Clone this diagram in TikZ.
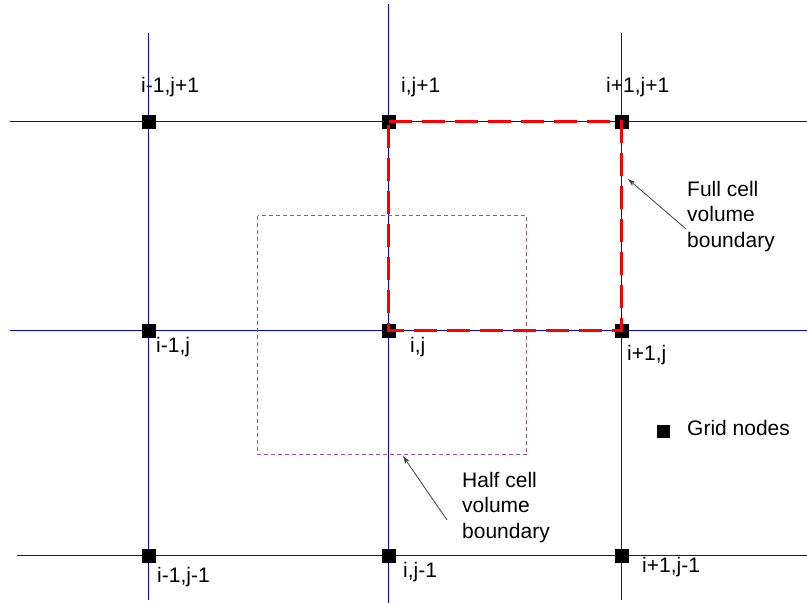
\documentclass[tikz,border=0pt]{standalone}
\usepackage{fontspec}
\setmainfont{Liberation Sans}
\usetikzlibrary{arrows.meta}
\definecolor{halfc}{RGB}{176,80,128}
\begin{document}
\begin{tikzpicture}[x=1pt,y=-1pt,
  gridline/.style={draw=blue, line width=1pt},
  gnode/.style={fill=black, minimum size=14pt, inner sep=0pt, draw=none, rectangle},
  lbl/.style={anchor=base west, inner sep=0pt, font=\fontsize{21}{25.5}\selectfont, align=left},
  fullcell/.style={draw=red, line width=3pt, dash pattern=on 23pt off 10pt},
  halfcell/.style={draw=halfc, line width=1pt, dash pattern=on 4pt off 3pt},
  pointer/.style={draw=black!75, line width=0.8pt, -{Stealth[length=8pt,width=5pt]}}
]
\useasboundingbox (0,0) rectangle (807,603);
% grid lines
\draw[gridline] (148.5,33) -- (148.5,600);
\draw[gridline] (388.5,4) -- (388.5,603);
\draw[gridline] (621.5,33) -- (621.5,600);
\draw[gridline] (10,121.5) -- (807,121.5);
\draw[gridline] (10,330.5) -- (807,330.5);
\draw[gridline] (17,555.5) -- (807,555.5);
% half cell boundary
\draw[halfcell] (257.5,215.5) rectangle (526.5,454.5);
% grid nodes
\node[gnode] (a1) at (148.5,121.5) {};
\node[gnode] (b1) at (388.5,121.5) {};
\node[gnode] (c1) at (621.5,121.5) {};
\node[gnode] (a2) at (148.5,330.5) {};
\node[gnode] (b2) at (388.5,330.5) {};
\node[gnode] (c2) at (621.5,330.5) {};
\node[gnode] (a3) at (148.5,555.5) {};
\node[gnode] (b3) at (388.5,555.5) {};
\node[gnode] (c3) at (621.5,555.5) {};
% full cell boundary
\draw[fullcell] (b1.center) -- (c1.center) -- (c2.center) -- (b2.center) -- cycle;
% labels
\node[lbl] (la1) at (141,92) {i-1,j+1};
\node[lbl] (lb1) at (401,92) {i,j+1};
\node[lbl] (lc1) at (606,92) {i+1,j+1};
\node[lbl] (la2) at (156,352) {i-1,j};
\node[lbl] (lb2) at (410,352) {i,j};
\node[lbl] (lc2) at (627,360) {i+1,j};
\node[lbl] (la3) at (157,582) {i-1,j-1};
\node[lbl] (lb3) at (403,577) {i,j-1};
\node[lbl] (lc3) at (642,572) {i+1,j-1};
% legend
\node[gnode, minimum size=13pt] (leg) at (663.5,431.5) {};
\node[lbl] (legtxt) at (687,435) {Grid nodes};
% annotations (anchor at baseline of last line)
\node[lbl] (fulltxt) at (687,247) {Full cell\\volume\\boundary};
\node[lbl] (halftxt) at (462,538) {Half cell\\volume\\boundary};
\coordinate (fulltail) at (686,229);
\coordinate (fulltip) at (628,179);
\coordinate (halftail) at (447,520);
\coordinate (halftip) at (403,456);
\draw[pointer] (fulltail) -- (fulltip);
\draw[pointer] (halftail) -- (halftip);
\end{tikzpicture}
\end{document}
